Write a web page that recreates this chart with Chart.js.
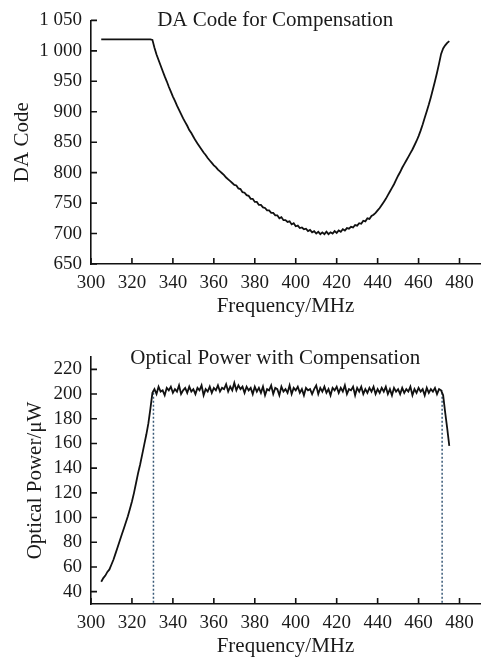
<!DOCTYPE html>
<html>
<head>
<meta charset="utf-8">
<script src="https://cdn.jsdelivr.net/npm/chart.js@4/dist/chart.umd.min.js"></script>
<style>
  html, body { margin: 0; padding: 0; background: #fff; }
  #wrap { position: relative; width: 482px; height: 660px; }
  canvas { position: absolute; left: 0; }
  #daChart { top: 0; }
  #powerChart { top: 320px; }
</style>
</head>
<body>
<div id="wrap">
  <canvas id="daChart" width="482" height="320"></canvas>
  <canvas id="powerChart" width="482" height="340"></canvas>
</div>
<script>
// sweep starts at 305 MHz, one sample per MHz up to 475 MHz
var freqStart = 305;
var freqTicks = [300, 320, 340, 360, 380, 400, 420, 440, 460, 480];
var daTicks = [650, 700, 750, 800, 850, 900, 950, 1000, 1050];
var powerTicks = [40, 60, 80, 100, 120, 140, 160, 180, 200, 220];

var daCode = [
  1019, 1019, 1019, 1019, 1019, 1019, 1019, 1019, 1019, 1019,
  1019, 1019, 1019, 1019, 1019, 1019, 1019, 1019, 1019, 1019,
  1019, 1019, 1019, 1019, 1019,
  1018, 1005, 994, 985, 976, 967, 958, 950, 941, 933,
  925, 918, 910, 903, 896, 889, 883, 877, 870, 865,
  859, 853, 848, 843, 838, 833, 829, 824, 820, 816,
  812, 809, 805, 802, 799, 796, 792, 789, 786, 783,
  780, 779, 774, 773, 768, 767, 763, 762, 757, 757,
  752, 752, 747, 747, 743, 742, 738, 738, 734, 734,
  730, 730, 725, 727, 722, 722, 719, 720, 715, 717,
  712, 713, 709, 710, 707, 708, 704, 706, 702, 704,
  700, 703, 699, 702, 699, 703, 699, 702, 700, 704,
  701, 705, 703, 707, 705, 709, 708, 711, 710, 714,
  713, 717, 716, 721, 720, 725, 724, 729, 731, 734,
  738, 742, 747, 752, 757, 763, 769, 775, 781, 788,
  795, 801, 808, 814, 820, 826, 832, 838, 845, 852,
  860, 869, 879, 890, 901, 912, 924, 937, 950, 964,
  979, 995, 1004, 1009, 1013, 1016
];

var opticalPower = [
  48, 51, 53, 56, 58, 62, 66, 71, 76, 81,
  86, 91, 96, 101, 107, 113, 120, 128, 136, 143,
  151, 159, 167, 176, 188, 201,
  204, 200, 206, 202, 203, 199, 205, 203, 206, 201,
  204, 202, 207, 200, 203, 205, 201, 206, 202, 204,
  200, 205, 203, 207, 199, 204, 202, 206, 201, 205,
  203, 207, 202, 205, 204, 208, 202, 206, 203, 209,
  203, 207, 204, 206, 201, 206, 203, 205, 200, 206,
  202, 205, 201, 206, 199, 204, 203, 207, 200, 205,
  204, 199, 206, 202, 204, 201, 207, 200, 205, 203,
  206, 201, 204, 199, 205, 203, 204, 200, 204, 207,
  200, 205, 202, 206, 201, 204, 199, 205, 203, 206,
  201, 205, 202, 207, 200, 204, 203, 206, 199, 205,
  202, 206, 200, 204, 201, 205, 202, 206, 200, 204,
  201, 205, 202, 206, 200, 204, 199, 205, 202, 204,
  200, 205, 201, 204, 202, 206, 199, 204, 201, 205,
  202, 204, 199, 205, 201, 204, 202, 205, 200, 204,
  203, 199, 185, 172, 158
];

// dotted markers at the edges of the compensated band
var bandEdges = [330.5, 471.5];
var bandEdgeRange = [31, 203];

var serif = '"Liberation Serif", "Times New Roman", serif';
var textColor = '#1a1a1a';

function toPoints(values) {
  var pts = [];
  for (var i = 0; i < values.length; i++) {
    pts.push({x: freqStart + i, y: values[i]});
  }
  return pts;
}

// tick marks point into the plot area
var inwardTicks = {
  id: 'inwardTicks',
  afterDatasetsDraw: function(chart) {
    var ctx = chart.ctx;
    var area = chart.chartArea;
    var xs = chart.scales.x, ys = chart.scales.y;
    ctx.save();
    ctx.strokeStyle = '#111';
    ctx.lineWidth = 1.6;
    ctx.beginPath();
    xs.ticks.forEach(function(t) {
      var px = xs.getPixelForValue(t.value);
      ctx.moveTo(px, area.bottom);
      ctx.lineTo(px, area.bottom - 6);
    });
    ys.ticks.forEach(function(t) {
      var py = ys.getPixelForValue(t.value);
      ctx.moveTo(area.left, py);
      ctx.lineTo(area.left + 6, py);
    });
    ctx.stroke();
    ctx.restore();
  }
};

var panelTitle = {
  id: 'panelTitle',
  afterDraw: function(chart, args, opts) {
    var ctx = chart.ctx;
    ctx.save();
    ctx.font = '21px ' + serif;
    ctx.fillStyle = textColor;
    ctx.textAlign = 'center';
    ctx.textBaseline = 'middle';
    ctx.fillText(opts.text, chart.scales.x.getPixelForValue(opts.center), chart.chartArea.top + opts.dy);
    ctx.restore();
  }
};

function thousands(v) {
  return String(v).replace(/\B(?=(\d{3})+(?!\d))/g, ' ');
}

function buildOptions(cfg) {
  var tickFont = {family: serif, size: 19};
  var titleFont = {family: serif, size: 21};
  return {
    responsive: false,
    animation: false,
    devicePixelRatio: 1,
    layout: {padding: {top: cfg.padTop, right: 2, left: 0, bottom: 0}},
    plugins: {
      legend: {display: false},
      tooltip: {enabled: false},
      panelTitle: {text: cfg.title, center: 390, dy: cfg.titleDy}
    },
    scales: {
      x: {
        type: 'linear',
        min: 300,
        max: 490,
        afterBuildTicks: function(s) { s.ticks = freqTicks.map(function(v) { return {value: v}; }); },
        afterFit: function(s) { s.height = 56; },
        grid: {display: false, drawTicks: false},
        border: {display: true, color: '#111', width: 1.6},
        ticks: {padding: 8, font: tickFont, color: textColor, maxRotation: 0, autoSkip: false},
        title: {display: true, text: 'Frequency/MHz', font: titleFont, color: textColor, padding: {top: 0, bottom: 1}}
      },
      y: {
        min: cfg.yMin,
        max: cfg.yMax,
        afterBuildTicks: function(s) { s.ticks = cfg.yTicks.map(function(v) { return {value: v}; }); },
        afterFit: function(s) { s.width = 91; },
        grid: {display: false, drawTicks: false},
        border: {display: true, color: '#111', width: 1.6},
        ticks: {padding: 9, font: tickFont, color: textColor, autoSkip: false,
          callback: function(v) { return thousands(v); }},
        title: {display: true, text: cfg.yTitle, font: titleFont, color: textColor, padding: {top: cfg.yTitlePad, bottom: 0}}
      }
    }
  };
}

new Chart(document.getElementById('daChart'), {
  type: 'line',
  data: {
    datasets: [{
      data: toPoints(daCode),
      borderColor: '#111',
      borderWidth: 1.8,
      pointRadius: 0,
      tension: 0
    }]
  },
  options: buildOptions({
    padTop: 15, yMin: 650, yMax: 1050, yTicks: daTicks,
    yTitle: 'DA Code', yTitlePad: 10,
    title: 'DA Code for Compensation', titleDy: 0
  }),
  plugins: [inwardTicks, panelTitle]
});

var powerSets = [{
  data: toPoints(opticalPower),
  borderColor: '#111',
  borderWidth: 1.8,
  pointRadius: 0,
  tension: 0
}];
bandEdges.forEach(function(f) {
  powerSets.push({
    data: [{x: f, y: bandEdgeRange[0]}, {x: f, y: bandEdgeRange[1]}],
    borderColor: '#3a5a78',
    borderWidth: 1.5,
    borderDash: [2, 2],
    pointRadius: 0
  });
});

new Chart(document.getElementById('powerChart'), {
  type: 'line',
  data: {datasets: powerSets},
  options: buildOptions({
    padTop: 37, yMin: 30, yMax: 230, yTicks: powerTicks,
    yTitle: 'Optical Power/\u03bcW', yTitlePad: 23,
    title: 'Optical Power with Compensation', titleDy: 1
  }),
  plugins: [inwardTicks, panelTitle]
});
</script>
</body>
</html>
